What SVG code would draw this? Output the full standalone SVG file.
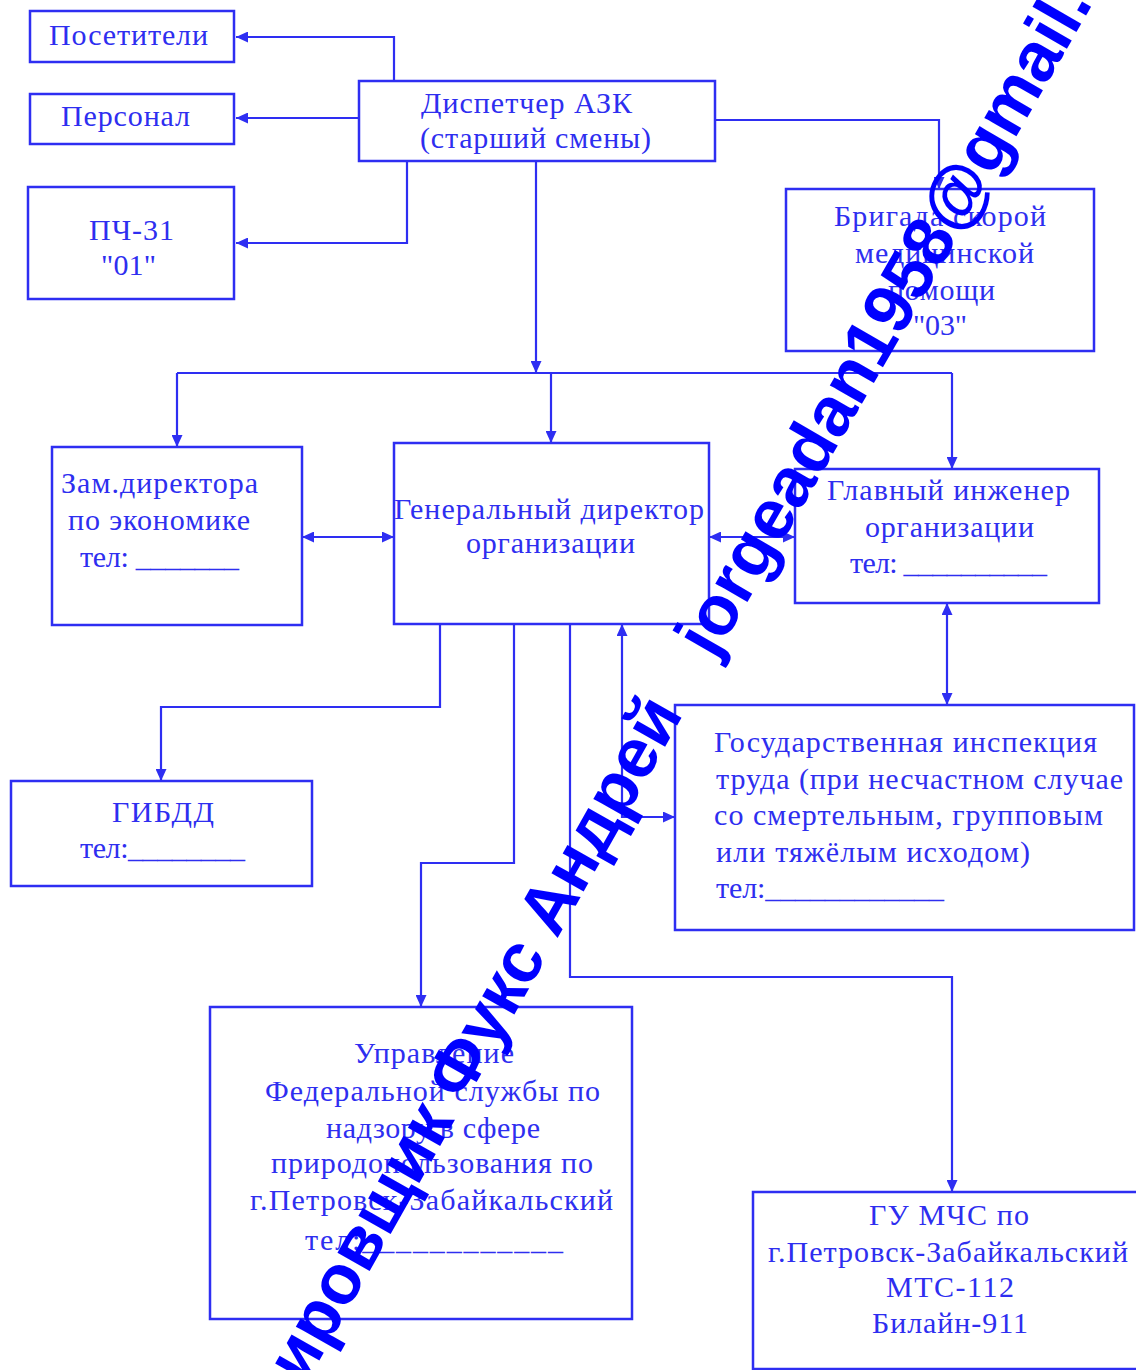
<svg xmlns="http://www.w3.org/2000/svg" width="1136" height="1370" viewBox="0 0 1136 1370">
<defs>
<marker id="ah" markerWidth="12" markerHeight="11" refX="12" refY="5.5" orient="auto-start-reverse" markerUnits="userSpaceOnUse">
<path d="M0,0 L12,5.5 L0,11 z" fill="#2e2ef2"/>
</marker>
<style>
.box{fill:none;stroke:#2e2ef2;stroke-width:2.5}
.ln{fill:none;stroke:#2e2ef2;stroke-width:2.2}
.a{marker-end:url(#ah)}
.aa{marker-start:url(#ah);marker-end:url(#ah)}
.t{font-family:"Liberation Serif","Times New Roman",serif;font-size:30px;fill:#2e2ef0}
.wm{font-family:"Liberation Sans",Arial,sans-serif;font-weight:bold;font-size:70px;fill:#0000ff}
</style>
</defs>
<rect width="1136" height="1370" fill="#ffffff"/>
<g id="connectors">
<path class="ln a" d="M394,81 V37 H236"/>
<path class="ln a" d="M359,118 H236"/>
<path class="ln a" d="M407,161 V243 H236"/>
<path class="ln a" d="M715,120 H939 V189"/>
<path class="ln a" d="M536,161 V373"/>
<path class="ln" d="M177,373 H952"/>
<path class="ln a" d="M177,373 V447"/>
<path class="ln a" d="M551,373 V443"/>
<path class="ln a" d="M952,373 V469"/>
<path class="ln aa" d="M302,537 H394"/>
<path class="ln aa" d="M709,537 H795"/>
<path class="ln aa" d="M947,603 V705"/>
<path class="ln a" d="M440,624 V707 H161 V781"/>
<path class="ln a" d="M514,624 V863 H421 V1007"/>
<path class="ln a" d="M570,624 V977 H952 V1192"/>
<path class="ln aa" d="M622,624 V817 H675"/>
</g>
<g id="n-posetiteli"><rect class="box" x="30" y="11" width="204" height="51"/><text class="t" x="49" y="45" textLength="159" lengthAdjust="spacing">Посетители</text></g>
<g id="n-personal"><rect class="box" x="30" y="94" width="204" height="50"/><text class="t" x="61" y="126" textLength="129" lengthAdjust="spacing">Персонал</text></g>
<g id="n-pch31"><rect class="box" x="28" y="187" width="206" height="112"/><text class="t" x="89" y="240" textLength="85" lengthAdjust="spacing">ПЧ-31</text><text class="t" x="101" y="275" textLength="55" lengthAdjust="spacing">"01"</text></g>
<g id="n-dispatcher"><rect class="box" x="359" y="81" width="356" height="80"/><text class="t" x="421" y="113" textLength="211" lengthAdjust="spacing">Диспетчер АЗК</text><text class="t" x="420" y="148" textLength="231" lengthAdjust="spacing">(старший смены)</text></g>
<g id="n-brigada"><rect class="box" x="786" y="189" width="308" height="162"/><text class="t" x="834" y="226" textLength="212" lengthAdjust="spacing">Бригада скорой</text><text class="t" x="855" y="263" textLength="179" lengthAdjust="spacing">медицинской</text><text class="t" x="888" y="300" textLength="107" lengthAdjust="spacing">помощи</text><text class="t" x="913" y="335" textLength="54" lengthAdjust="spacing">"03"</text></g>
<g id="n-zam"><rect class="box" x="52" y="447" width="250" height="178"/><text class="t" x="61" y="493" textLength="197" lengthAdjust="spacing">Зам.директора</text><text class="t" x="68" y="530" textLength="182" lengthAdjust="spacing">по экономике</text><text class="t" x="80" y="567" textLength="159" lengthAdjust="spacing">тел: _______</text></g>
<g id="n-gendir"><rect class="box" x="394" y="443" width="315" height="181"/><text class="t" x="394" y="519" textLength="310" lengthAdjust="spacing">Генеральный директор</text><text class="t" x="466" y="553" textLength="169" lengthAdjust="spacing">организации</text></g>
<g id="n-glavinzh"><rect class="box" x="795" y="469" width="304" height="134"/><text class="t" x="827" y="500" textLength="243" lengthAdjust="spacing">Главный инженер</text><text class="t" x="865" y="537" textLength="169" lengthAdjust="spacing">организации</text><text class="t" x="850" y="573" textLength="197" lengthAdjust="spacing">тел: __________</text></g>
<g id="n-gosinsp"><rect class="box" x="675" y="705" width="459" height="225"/><text class="t" x="714" y="752" textLength="383" lengthAdjust="spacing">Государственная инспекция</text><text class="t" x="716" y="789" textLength="407" lengthAdjust="spacing">труда (при несчастном случае</text><text class="t" x="714" y="825" textLength="389" lengthAdjust="spacing">со смертельным, групповым</text><text class="t" x="716" y="862" textLength="314" lengthAdjust="spacing">или тяжёлым исходом)</text><text class="t" x="716" y="898" textLength="228" lengthAdjust="spacing">тел:____________</text></g>
<g id="n-gibdd"><rect class="box" x="11" y="781" width="301" height="105"/><text class="t" x="112" y="822" textLength="102" lengthAdjust="spacing">ГИБДД</text><text class="t" x="80" y="858" textLength="165" lengthAdjust="spacing">тел:________</text></g>
<g id="n-upravlenie"><rect class="box" x="210" y="1007" width="422" height="312"/><text class="t" x="354" y="1063" textLength="160" lengthAdjust="spacing">Управление</text><text class="t" x="265" y="1101" textLength="335" lengthAdjust="spacing">Федеральной службы по</text><text class="t" x="326" y="1138" textLength="214" lengthAdjust="spacing">надзору в сфере</text><text class="t" x="271" y="1173" textLength="322" lengthAdjust="spacing">природопользования по</text><text class="t" x="250" y="1210" textLength="363" lengthAdjust="spacing">г.Петровск-Забайкальский</text><text class="t" x="305" y="1250" textLength="258" lengthAdjust="spacing">тел:____________</text></g>
<g id="n-gumchs"><rect class="box" x="753" y="1192" width="400" height="177"/><text class="t" x="869" y="1225" textLength="160" lengthAdjust="spacing">ГУ МЧС по</text><text class="t" x="768" y="1262" textLength="360" lengthAdjust="spacing">г.Петровск-Забайкальский</text><text class="t" x="886" y="1297" textLength="128" lengthAdjust="spacing">МТС-112</text><text class="t" x="872" y="1333" textLength="156" lengthAdjust="spacing">Билайн-911</text></g>
<g id="watermark">
<text class="wm" transform="translate(305,1386) rotate(-60.6)" textLength="772" lengthAdjust="spacing">ировщик Фукс Андрей</text>
<text class="wm" transform="translate(714,660) rotate(-60)" textLength="759" lengthAdjust="spacing">jorgeadan1958@gmail.</text>
</g>
</svg>
